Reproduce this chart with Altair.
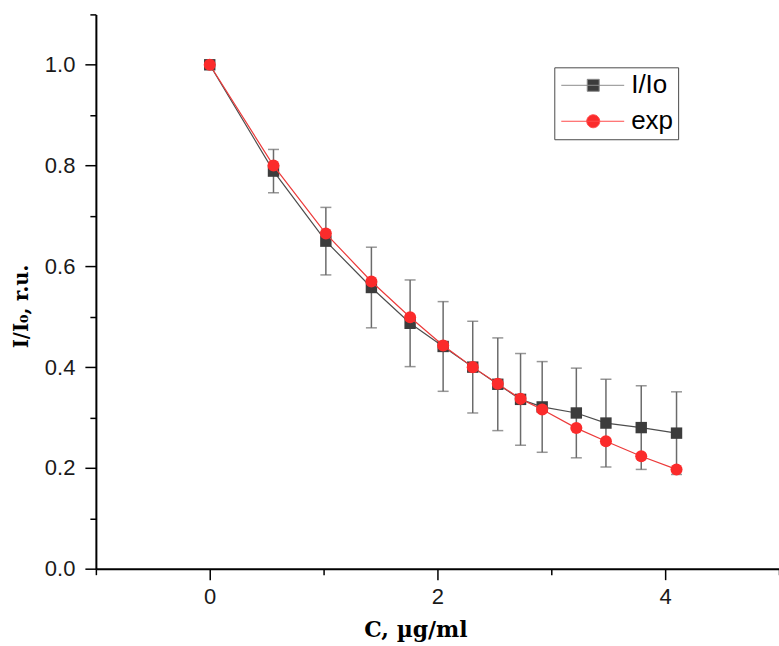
import altair as alt
import pandas as pd

# ---- data ----
conc = [0.0, 0.56, 1.02, 1.42, 1.76, 2.05, 2.31, 2.53, 2.73, 2.92, 3.22, 3.48, 3.79, 4.10]
ratio = [1.000, 0.789, 0.650, 0.558, 0.487, 0.441, 0.400, 0.366, 0.336, 0.321, 0.309, 0.289, 0.280, 0.269]
ratio_err = [0.000, 0.043, 0.067, 0.080, 0.086, 0.089, 0.091, 0.092, 0.091, 0.090, 0.089, 0.087, 0.083, 0.082]
exp_fit = [1.000, 0.800, 0.665, 0.570, 0.499, 0.443, 0.400, 0.367, 0.337, 0.316, 0.279, 0.253, 0.223, 0.197]

series_names = ["I/Io", "exp"]
x_ticks = [-1, 0, 1, 2, 3, 4, 5]
y_ticks = [0.0, 0.1, 0.2, 0.3, 0.4, 0.5, 0.6, 0.7, 0.8, 0.9, 1.0, 1.1]

# ---- tables ----
df = pd.DataFrame({
    "conc": conc,
    "ratio": ratio,
    "lo": [r - e for r, e in zip(ratio, ratio_err)],
    "hi": [r + e for r, e in zip(ratio, ratio_err)],
    "exp": exp_fit,
})
long = pd.concat([
    pd.DataFrame({"conc": conc, "val": ratio, "series": series_names[0]}),
    pd.DataFrame({"conc": conc, "val": exp_fit, "series": series_names[1]}),
])

GREY_ERR = "#6b6b6b"
SQ = "#3c3c3c"
RED = "#fb2b2b"

xscale = alt.Scale(domain=[-1, 5], nice=False, zero=False)
yscale = alt.Scale(domain=[0, 1.1], nice=False, zero=False)

x_axis = alt.Axis(
    values=x_ticks,
    labelExpr="(datum.value % 2 == 0 && datum.value >= 0 && datum.value <= 4) ? format(datum.value, 'd') : ''",
    tickSize={"condition": {"test": "datum.value % 2 == 0", "value": 11}, "value": 6},
    labelPadding=7,
    labelFlush=False,
    labelOverlap=False,
    title="C, µg/ml",
    titleFont="DejaVu Serif",
    titleFontWeight="bold",
    titleFontSize=22,
    titleColor="black",
    titleX=320,
    titleY=68,
    titleAlign="center",
    titleBaseline="alphabetic",
)
y_axis = alt.Axis(
    values=y_ticks,
    labelExpr="(round(datum.value * 10) % 2 == 0) ? format(datum.value, '.1f') : ''",
    tickSize={"condition": {"test": "round(datum.value * 10) % 2 == 0", "value": 11}, "value": 6},
    labelPadding=10,
    labelFlush=False,
    labelOverlap=False,
    title="I/I₀, r.u.",
    titleFont="DejaVu Serif",
    titleFontWeight="bold",
    titleFontSize=19.5,
    titleColor="black",
    titleAngle=270,
    titleX=-74,
    titleY=292,
    titleAlign="center",
    titleBaseline="middle",
)

base = alt.Chart(df)

err_rule = base.mark_rule(color=GREY_ERR, strokeWidth=1.5).encode(
    x=alt.X("conc:Q", scale=xscale, axis=x_axis),
    y=alt.Y("lo:Q", scale=yscale, axis=y_axis),
    y2="hi:Q",
)
cap_lo = base.mark_tick(orient="horizontal", size=11, thickness=1.5, color=GREY_ERR).encode(
    x="conc:Q", y="lo:Q"
)
cap_hi = base.mark_tick(orient="horizontal", size=11, thickness=1.5, color=GREY_ERR).encode(
    x="conc:Q", y="hi:Q"
)
line_ratio = base.mark_line(color="#4d4d4d", strokeWidth=1.2).encode(x="conc:Q", y="ratio:Q")
pts_ratio = base.mark_point(shape="square", filled=True, size=130, color=SQ, opacity=1).encode(
    x="conc:Q", y="ratio:Q"
)
line_exp = base.mark_line(color="#ec3a3a", strokeWidth=1.2).encode(x="conc:Q", y="exp:Q")
pts_exp = base.mark_point(shape="circle", filled=True, size=145, color=RED, opacity=1).encode(
    x="conc:Q", y="exp:Q"
)

# legend symbols (units of 10 px): a line with the marker in its middle
sq_path = "M-1.1,0H5.2M1.5,-0.6H2.7V0.6H1.5Z"
ci_path = "M-1.1,0H5.2M2.75,0A0.65,0.65,0,1,1,1.45,0A0.65,0.65,0,1,1,2.75,0Z"

leg = alt.Legend(
    title=None,
    orient="none",
    legendX=459,
    legendY=53,
    labelFont="Liberation Sans",
    labelFontSize=26,
    labelColor="black",
    labelOffset=46,
    labelLimit=300,
    symbolSize=400,
    symbolStrokeWidth=1,
    symbolOpacity=1,
    strokeColor="#4a4a4a",
    fillColor="white",
    padding=5,
    rowPadding=10,
)
legend_layer = alt.Chart(long).mark_point(filled=True, opacity=0, strokeWidth=1).encode(
    x="conc:Q",
    y="val:Q",
    shape=alt.Shape("series:N", scale=alt.Scale(domain=series_names, range=[sq_path, ci_path]), legend=leg),
    fill=alt.Fill("series:N", scale=alt.Scale(domain=series_names, range=[SQ, RED]), legend=leg),
    stroke=alt.Stroke("series:N", scale=alt.Scale(domain=series_names, range=["#8c8c8c", "#ff4a4a"]), legend=leg),
)

chart = alt.layer(
    err_rule, cap_lo, cap_hi, line_ratio, pts_ratio, line_exp, pts_exp, legend_layer
).properties(
    width=684,
    height=555,
    autosize=alt.AutoSizeParams(type="none"),
    padding={"left": 96, "top": 14, "right": 0, "bottom": 77},
    background="white",
).configure_view(
    stroke=None
).configure_axis(
    grid=False,
    domainColor="black",
    domainWidth=2,
    tickColor="black",
    tickWidth=1.5,
    labelFont="Liberation Sans",
    labelFontSize=22,
    labelColor="#1a1a1a",
)

chart.save("out.html", embed_options={"renderer": "svg", "actions": False})
